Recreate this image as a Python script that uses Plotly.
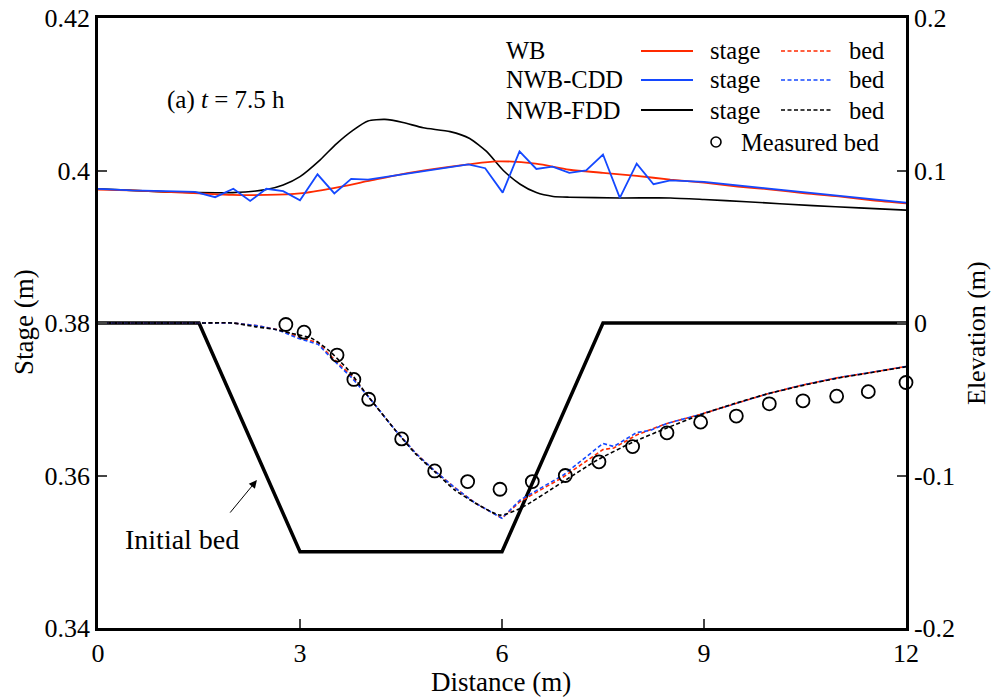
import plotly.graph_objects as go

# ---------------- data ----------------
# Stage (m), left axis
wb_stage_x = [0, 0.5, 1, 1.5, 2, 2.5, 3, 3.5, 4, 4.5, 5, 5.5, 5.92, 6.5, 7, 7.5, 8, 8.5, 9, 9.5, 10, 10.5, 11, 11.5, 12]
wb_stage_y = [0.3975, 0.3974, 0.3972, 0.3970, 0.3968, 0.3968, 0.3970, 0.3977, 0.3986, 0.3995, 0.4002, 0.4008, 0.4012, 0.4009, 0.4001, 0.3997, 0.3993, 0.3988, 0.3984, 0.3979, 0.3975, 0.3970, 0.3966, 0.3961, 0.3957]

cdd_stage_x = [0, 0.5, 1.0, 1.44, 1.74, 2.01, 2.26, 2.50, 2.75, 3.0, 3.26, 3.51, 3.76, 4.01, 5.50, 5.75, 6.01, 6.26, 6.51, 6.75, 7.0, 7.25, 7.50, 7.75, 8.0, 8.25, 8.50, 9, 10, 11, 12]
cdd_stage_y = [0.3976, 0.3974, 0.3973, 0.3972, 0.3965, 0.3976, 0.3960, 0.3976, 0.3973, 0.3961, 0.3995, 0.3970, 0.3989, 0.3988, 0.4008, 0.4003, 0.3971, 0.4025, 0.4002, 0.4005, 0.3997, 0.4000, 0.4021, 0.3964, 0.4009, 0.3982, 0.3987, 0.3985, 0.3976, 0.3967, 0.3958]

fdd_stage_x = [0, 0.5, 1, 1.5, 2, 2.5, 2.75, 3.0, 3.3, 3.54, 3.79, 4.01, 4.26, 4.53, 4.83, 5.23, 5.52, 5.77, 6.02, 6.27, 6.51, 6.76, 7.0, 7.75, 8.5, 9.0, 9.63, 10.62, 11.3, 12]
fdd_stage_y = [0.3976, 0.3974, 0.3972, 0.3971, 0.3971, 0.3975, 0.3981, 0.3992, 0.4014, 0.4035, 0.4053, 0.4065, 0.4067, 0.4063, 0.4056, 0.4051, 0.4042, 0.4025, 0.4000, 0.3982, 0.3971, 0.3966, 0.3965, 0.3964, 0.3964, 0.3962, 0.3959, 0.3954, 0.3951, 0.3948]

# Elevation (m), right axis
init_bed_x = [0, 1.5, 3, 6, 7.5, 12]
init_bed_z = [0, 0, -0.15, -0.15, 0, 0]

meas_x = [2.79, 3.06, 3.55, 3.80, 4.02, 4.51, 5.00, 5.49, 5.97, 6.45, 6.94, 7.44, 7.94, 8.45, 8.95, 9.48, 9.97, 10.47, 10.97, 11.44, 12.0]
meas_z = [-0.001, -0.006, -0.021, -0.037, -0.050, -0.076, -0.097, -0.104, -0.109, -0.104, -0.100, -0.091, -0.081, -0.072, -0.065, -0.061, -0.053, -0.051, -0.048, -0.045, -0.039]

fdd_bed_x = [0, 1.5, 2.0, 2.33, 2.62, 2.87, 3.17, 3.42, 3.72, 4.01, 4.41, 4.71, 5.0, 5.30, 5.60, 5.97, 6.27, 6.91, 7.41, 7.95, 8.44, 8.94, 9.44, 9.93, 10.43, 10.97, 11.47, 12.0]
fdd_bed_z = [0, 0, 0, -0.0024, -0.0041, -0.0068, -0.010, -0.0177, -0.031, -0.048, -0.070, -0.0855, -0.0975, -0.1095, -0.118, -0.126, -0.1216, -0.104, -0.090, -0.078, -0.069, -0.0603, -0.053, -0.0466, -0.0413, -0.0363, -0.0326, -0.0287]

cdd_bed_x = [0, 1.5, 2.0, 2.4, 2.69, 2.97, 3.27, 3.42, 3.77, 4.01, 4.41, 4.71, 5.0, 5.30, 5.60, 6.0, 6.27, 6.91, 7.50, 7.66, 8.0, 8.2, 8.44, 8.94, 9.44, 9.93, 10.43, 10.97, 11.47, 12.0]
cdd_bed_z = [0, 0, 0, -0.002, -0.0048, -0.010, -0.014, -0.021, -0.036, -0.048, -0.070, -0.085, -0.097, -0.108, -0.118, -0.128, -0.116, -0.0997, -0.079, -0.081, -0.0718, -0.0705, -0.066, -0.060, -0.053, -0.0466, -0.041, -0.036, -0.0325, -0.0285]

wb_bed_x = [0, 1.5, 2.0, 2.4, 2.69, 2.97, 3.27, 3.42, 3.77, 4.01, 4.41, 4.71, 5.0, 5.30, 5.60, 6.0, 6.27, 6.91, 7.50, 7.66, 8.0, 8.2, 8.44, 8.94, 9.44, 9.93, 10.43, 10.97, 11.47, 12.0]
wb_bed_z = [0, 0, 0, -0.002, -0.0045, -0.009, -0.013, -0.020, -0.035, -0.048, -0.070, -0.085, -0.097, -0.108, -0.118, -0.128, -0.117, -0.101, -0.083, -0.082, -0.0734, -0.070, -0.066, -0.060, -0.053, -0.0466, -0.041, -0.036, -0.0325, -0.0285]

stage_ticks = [0.34, 0.36, 0.38, 0.40, 0.42]
stage_ticktext = ["0.34", "0.36", "0.38", "0.4", "0.42"]
elev_ticks = [-0.2, -0.1, 0, 0.1, 0.2]
elev_ticktext = ["-0.2", "-0.1", "0", "0.1", "0.2"]
dist_ticks = [0, 3, 6, 9, 12]

RED = "#FF2A00"
BLUE = "#1448FF"
BLACK = "#000000"
FONT = "Liberation Serif"
DASH = "4px,2.5px"

fig = go.Figure()

# beds (right axis)
fig.add_trace(go.Scatter(x=init_bed_x, y=init_bed_z, yaxis="y2", mode="lines",
                         line=dict(color=BLACK, width=3.5), showlegend=False))
fig.add_trace(go.Scatter(x=wb_bed_x, y=wb_bed_z, yaxis="y2", mode="lines",
                         line=dict(color=RED, width=1.6, dash=DASH), showlegend=False))
fig.add_trace(go.Scatter(x=cdd_bed_x, y=cdd_bed_z, yaxis="y2", mode="lines",
                         line=dict(color=BLUE, width=1.6, dash=DASH), showlegend=False))
fig.add_trace(go.Scatter(x=fdd_bed_x, y=fdd_bed_z, yaxis="y2", mode="lines",
                         line=dict(color=BLACK, width=1.6, dash=DASH, shape="spline", smoothing=0.6), showlegend=False))
fig.add_trace(go.Scatter(x=meas_x, y=meas_z, yaxis="y2", mode="markers",
                         marker=dict(symbol="circle-open", size=13, color=BLACK, line=dict(width=1.8)),
                         showlegend=False, cliponaxis=False))

# stages (left axis)
fig.add_trace(go.Scatter(x=fdd_stage_x, y=fdd_stage_y, mode="lines",
                         line=dict(color=BLACK, width=1.6, shape="spline", smoothing=0.6), showlegend=False))
fig.add_trace(go.Scatter(x=wb_stage_x, y=wb_stage_y, mode="lines",
                         line=dict(color=RED, width=1.8, shape="spline", smoothing=0.8), showlegend=False))
fig.add_trace(go.Scatter(x=cdd_stage_x, y=cdd_stage_y, mode="lines",
                         line=dict(color=BLUE, width=1.8), showlegend=False))

L, R, T, B = 98, 906, 18, 628
W, H = 992, 698


def px(xp):
    return (xp - L) / (R - L)


def py(yp):
    return (B - yp) / (B - T)


ann = []
shapes = []
legend_font = dict(family=FONT, size=24.5, color=BLACK)
rows = [("WB", RED, 51), ("NWB-CDD", BLUE, 80), ("NWB-FDD", BLACK, 110)]
for name, col, yp in rows:
    ann.append(dict(x=px(504), y=py(yp), xref="paper", yref="paper", text=name, showarrow=False,
                    xanchor="left", yanchor="middle", font=legend_font))
    shapes.append(dict(type="line", xref="paper", yref="paper", x0=px(641), x1=px(693), y0=py(yp), y1=py(yp),
                       line=dict(color=col, width=1.8)))
    ann.append(dict(x=px(708), y=py(yp), xref="paper", yref="paper", text="stage", showarrow=False,
                    xanchor="left", yanchor="middle", font=legend_font))
    shapes.append(dict(type="line", xref="paper", yref="paper", x0=px(781), x1=px(832), y0=py(yp), y1=py(yp),
                       line=dict(color=col, width=1.6, dash=DASH)))
    ann.append(dict(x=px(847), y=py(yp), xref="paper", yref="paper", text="bed", showarrow=False,
                    xanchor="left", yanchor="middle", font=legend_font))
shapes.append(dict(type="circle", xref="paper", yref="paper",
                   x0=px(711), x1=px(721), y0=py(147), y1=py(137), line=dict(color=BLACK, width=1.6)))
ann.append(dict(x=px(739), y=py(142), xref="paper", yref="paper", text="Measured bed", showarrow=False,
                xanchor="left", yanchor="middle", font=legend_font))

# panel label
ann.append(dict(x=px(165), y=py(100), xref="paper", yref="paper", text="(a) <i>t</i> = 7.5 h", showarrow=False,
                xanchor="left", yanchor="middle", font=dict(family=FONT, size=25, color=BLACK)))

# Initial bed label + arrow
ann.append(dict(x=px(182), y=py(539), xref="paper", yref="paper", text="Initial bed", showarrow=False,
                xanchor="center", yanchor="middle", font=dict(family=FONT, size=28, color=BLACK)))
ann.append(dict(x=2.36, y=-0.103, xref="x", yref="y2", text="", showarrow=True,
                ax=-28, ay=34, arrowhead=2, arrowsize=1.6, arrowwidth=1, arrowcolor=BLACK))

# axis titles
title_font = dict(family=FONT, size=27, color=BLACK)
ann.append(dict(x=px(501), y=py(682), xref="paper", yref="paper", text="Distance (m)", showarrow=False,
                xanchor="center", yanchor="middle", font=title_font))
ann.append(dict(x=px(24), y=py(322), xref="paper", yref="paper", text="Stage (m)", showarrow=False,
                textangle=-90, xanchor="center", yanchor="middle", font=title_font))
ann.append(dict(x=px(976), y=py(333), xref="paper", yref="paper", text="Elevation (m)", showarrow=False,
                textangle=-90, xanchor="center", yanchor="middle", font=dict(family=FONT, size=26, color=BLACK)))

tick_font = dict(family=FONT, size=26, color=BLACK)
fig.update_layout(
    width=W, height=H,
    margin=dict(l=L, r=W - R, t=T, b=H - B, autoexpand=False),
    paper_bgcolor="white", plot_bgcolor="white",
    showlegend=False,
    xaxis=dict(range=[0, 12], tickvals=dist_ticks, ticks="inside", ticklen=9, tickwidth=2, automargin=False,
               showline=True, linewidth=2.5, linecolor=BLACK, mirror=True, showgrid=False, zeroline=False,
               tickfont=tick_font),
    yaxis=dict(range=[0.34, 0.42], tickvals=stage_ticks, ticktext=stage_ticktext, ticks="inside",
               ticklen=9, tickwidth=2, showline=True, linewidth=2.5, linecolor=BLACK, mirror=True,
               automargin=False, showgrid=False, zeroline=False, tickfont=tick_font),
    yaxis2=dict(range=[-0.2, 0.2], tickvals=elev_ticks, ticktext=elev_ticktext, overlaying="y", side="right",
                ticks="inside", ticklen=9, tickwidth=2, showline=True, linewidth=2.5, linecolor=BLACK,
                automargin=False, showgrid=False, zeroline=False, tickfont=tick_font),
    annotations=ann,
    shapes=shapes,
)

fig.write_html("out.html", config={"displayModeBar": False},
               post_script="document.body.style.margin='0px';document.body.style.overflow='hidden';")
